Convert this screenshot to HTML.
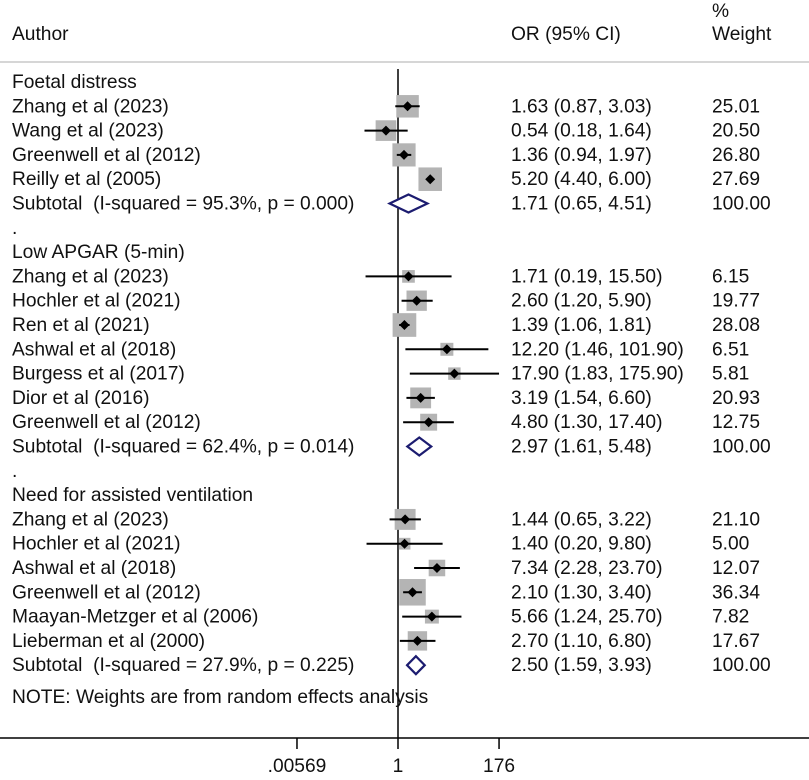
<!DOCTYPE html>
<html><head><meta charset="utf-8"><style>
body{margin:0;background:#fff;}
svg text{font-family:"Liberation Sans",sans-serif;font-size:19.2px;fill:#111;white-space:pre;}
</style></head><body>
<svg width="809" height="775" viewBox="0 0 809 775" id="plot">
<line x1="0" x2="809" y1="62" y2="62" stroke="#c8c8c8" stroke-width="1.5"/>
<line x1="398" x2="398" y1="69" y2="738" stroke="#000" stroke-width="1.5"/>
<line x1="0" x2="809" y1="738" y2="738" stroke="#000" stroke-width="1.5"/>
<g id="rows"></g>
<g id="axis"></g>
<g id="txt" transform="scale(1.0,1)"></g>
</svg>
<script>
const labels=["Foetal distress","Zhang et al (2023)","Wang et al (2023)","Greenwell et al (2012)","Reilly et al (2005)","Subtotal  (I-squared = 95.3%, p = 0.000)",".","Low APGAR (5-min)","Zhang et al (2023)","Hochler et al (2021)","Ren et al (2021)","Ashwal et al (2018)","Burgess et al (2017)","Dior et al (2016)","Greenwell et al (2012)","Subtotal  (I-squared = 62.4%, p = 0.014)",".","Need for assisted ventilation","Zhang et al (2023)","Hochler et al (2021)","Ashwal et al (2018)","Greenwell et al (2012)","Maayan-Metzger et al (2006)","Lieberman et al (2000)","Subtotal  (I-squared = 27.9%, p = 0.225)"];
const kinds=["h","s","s","s","s","d","h","h","s","s","s","s","s","s","s","d","h","h","s","s","s","s","s","s","d"];
const orVals=[null,1.63,0.54,1.36,5.20,1.71,null,null,1.71,2.60,1.39,12.20,17.90,3.19,4.80,2.97,null,null,1.44,1.40,7.34,2.10,5.66,2.70,2.50];
const lowVals=[null,0.87,0.18,0.94,4.40,0.65,null,null,0.19,1.20,1.06,1.46,1.83,1.54,1.30,1.61,null,null,0.65,0.20,2.28,1.30,1.24,1.10,1.59];
const highVals=[null,3.03,1.64,1.97,6.00,4.51,null,null,15.50,5.90,1.81,101.90,175.90,6.60,17.40,5.48,null,null,3.22,9.80,23.70,3.40,25.70,6.80,3.93];
const weights=[null,25.01,20.50,26.80,27.69,100.00,null,null,6.15,19.77,28.08,6.51,5.81,20.93,12.75,100.00,null,null,21.10,5.00,12.07,36.34,7.82,17.67,100.00];
const tickVals=[0.00569,1,176];
const tickLabels=[".00569","1","176"];
const NS="http://www.w3.org/2000/svg";
const SX=1.0;
function xs(v){return 398+45*Math.log10(v);}
function ys(i){return 82+24.3*i;}
function mk(tag,attrs,parent){const e=document.createElementNS(NS,tag);for(const k in attrs)e.setAttribute(k,attrs[k]);parent.appendChild(e);return e;}
const rows=document.getElementById('rows');
const txt=document.getElementById('txt');
function tx(x,y,s,anchor){const t=mk('text',{x:x/SX,y:y},txt);if(anchor)t.setAttribute('text-anchor',anchor);t.textContent=s;return t;}
let h;
h=tx(12,40,"Author");


h=tx(511,40,"OR (95% CI)");


h=tx(712,17,"%");


h=tx(712,40,"Weight");


const f=v=>v.toFixed(2);
labels.forEach((lab,i)=>{
  const y=ys(i);
  const t=tx(12,y+6,lab);
  
  
  if(orVals[i]==null)return;
  const c=tx(511,y+6,f(orVals[i])+" ("+f(lowVals[i])+", "+f(highVals[i])+")");
  
  
  const w=tx(712,y+6,f(weights[i]));
  
  
  const xl=xs(lowVals[i]),xh=xs(highVals[i]),xm=xs(orVals[i]);
  if(kinds[i]==="s"){
    const s=3+3.9*Math.sqrt(weights[i]);
    const b=mk('rect',{x:xm-s/2,y:y-s/2,width:s,height:s,fill:"#b4b4b4"},rows);
    
    
    const l=mk('line',{x1:xl,x2:xh,y1:y,y2:y,stroke:"#000","stroke-width":2},rows);
    
    
    const d=mk('polygon',{points:`${xm-5},${y} ${xm},${y-5} ${xm+5},${y} ${xm},${y+5}`,fill:"#000"},rows);
    
    
  } else {
    const d=mk('polygon',{points:`${xl},${y} ${xm},${y-9} ${xh},${y} ${xm},${y+9}`,fill:"#fff",stroke:"#1c1c70","stroke-width":2.2},rows);
    
    
  }
});
const note=tx(12,703,"NOTE: Weights are from random effects analysis");


const ax=document.getElementById('axis');
tickVals.forEach((v,i)=>{
  const x=xs(v);
  const l=mk('line',{x1:x,x2:x,y1:738,y2:749,stroke:"#000","stroke-width":1.5},ax);
  
  
  const t=tx(x,772,tickLabels[i],"middle");
  
  
});
</script>
</body></html>
